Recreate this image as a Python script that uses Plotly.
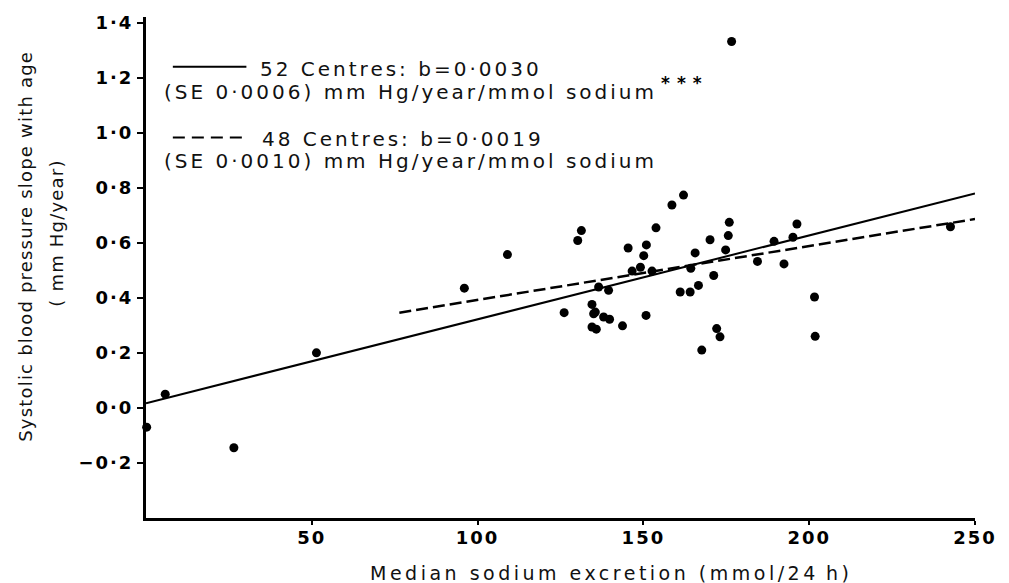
import plotly.graph_objects as go

# ---- data ----
sodium = [0.2, 5.8, 26.5, 51.4, 96.0, 109.0, 126.1, 130.2, 131.3, 134.5,
          135.0, 135.5, 138.0, 139.8, 134.5, 135.8, 136.5, 139.5, 143.7, 145.4,
          146.6, 149.1, 150.1, 150.8, 150.9, 152.6, 153.8, 158.6, 161.1, 162.1,
          164.1, 164.3, 165.6, 166.6, 167.6, 170.1, 171.2, 172.1, 173.1, 174.8,
          175.6, 175.9, 176.6, 184.4, 189.4, 192.4, 195.1, 196.3, 201.6, 201.8,
          242.6]
bp_slope = [-0.07, 0.05, -0.145, 0.20, 0.435, 0.557, 0.346, 0.608, 0.644, 0.376,
            0.342, 0.348, 0.330, 0.322, 0.294, 0.286, 0.439, 0.427, 0.298, 0.581,
            0.497, 0.511, 0.553, 0.336, 0.592, 0.497, 0.654, 0.737, 0.421, 0.773,
            0.421, 0.507, 0.563, 0.445, 0.210, 0.611, 0.481, 0.288, 0.258, 0.574,
            0.626, 0.674, 1.331, 0.532, 0.605, 0.523, 0.620, 0.668, 0.403, 0.260,
            0.658]

line52_x = [0, 250]
line52_y = [0.017, 0.779]
line48_x = [76.4, 250]
line48_y = [0.346, 0.686]

x_ticks = [50, 100, 150, 200, 250]
x_ticklabels = ["50", "100", "150", "200", "250"]
y_ticks = [-0.2, 0.0, 0.2, 0.4, 0.6, 0.8, 1.0, 1.2, 1.4]
y_ticklabels = ["\u22120\u00b72", "0\u00b70", "0\u00b72", "0\u00b74", "0\u00b76",
                "0\u00b78", "1\u00b70", "1\u00b72", "1\u00b74"]

legend_lines = [
    "52 Centres: b=0\u00b70030",
    "(SE 0\u00b70006) mm Hg/year/mmol sodium",
    "48 Centres: b=0\u00b70019",
    "(SE 0\u00b70010) mm Hg/year/mmol sodium",
]

# ---- layout geometry (pixels) ----
W, H = 1009, 583
L, R, T, B = 146, 29, 15, 65
PW, PH = W - L - R, H - T - B


def px(xp):
    return (xp - L) / PW


def py(yp):
    return (H - B - yp) / PH


FONT = "DejaVu Sans"


def spaced(s, sp):
    return '<span style="letter-spacing:%spx">%s</span>' % (sp, s)


fig = go.Figure()
fig.add_trace(go.Scatter(x=line52_x, y=line52_y, mode="lines",
                         line=dict(color="black", width=2), showlegend=False))
fig.add_trace(go.Scatter(x=line48_x, y=line48_y, mode="lines",
                         line=dict(color="black", width=2.5, dash="12px,5px"),
                         showlegend=False))
fig.add_trace(go.Scatter(x=sodium, y=bp_slope, mode="markers",
                         marker=dict(color="black", size=9), showlegend=False,
                         cliponaxis=False))

tick_font = dict(family=FONT, size=18, color="black", weight="bold")

fig.update_xaxes(range=[0, 250], showline=True, linewidth=3, linecolor="black",
                 ticks="outside", ticklen=4, tickwidth=2, tickcolor="black",
                 ticklabelstandoff=-3,
                 tickvals=x_ticks, ticktext=[spaced(t, 2) for t in x_ticklabels],
                 tickfont=tick_font, showgrid=False, zeroline=False)
fig.update_yaxes(range=[-0.40, 1.42], showline=True, linewidth=3, linecolor="black",
                 ticks="outside", ticklen=6, tickwidth=2, tickcolor="black",
                 tickvals=y_ticks, ticktext=[spaced(t, 2) for t in y_ticklabels],
                 tickfont=tick_font, showgrid=False, zeroline=False)

ann_font = dict(family=FONT, size=20, color="#111111")
LS = 3
annotations = []
# legend texts
annotations.append(dict(text=spaced(legend_lines[0], LS), x=px(259), y=py(67),
                        xanchor="left", yanchor="middle"))
annotations.append(dict(text=spaced(legend_lines[1], LS), x=px(162), y=py(90),
                        xanchor="left", yanchor="middle"))
annotations.append(dict(text=spaced(legend_lines[2], LS), x=px(261), y=py(137),
                        xanchor="left", yanchor="middle"))
annotations.append(dict(text=spaced(legend_lines[3], LS), x=px(162), y=py(160),
                        xanchor="left", yanchor="middle"))
annotations.append(dict(text=spaced("***", 7), x=px(688), y=py(81), xanchor="center",
                        yanchor="middle", font=dict(family=FONT, size=17,
                                                    color="black", weight="bold")))
# axis titles
annotations.append(dict(text=spaced("Median sodium excretion (mmol/24\u2009h)", 3.5),
                        x=px(614), y=py(573), xanchor="center", yanchor="middle",
                        font=dict(family=FONT, size=19, color="#111111")))
annotations.append(dict(text=spaced("Systolic blood pressure slope with age", 1.2),
                        x=px(24), y=py(245), xanchor="center", yanchor="middle",
                        textangle=-90,
                        font=dict(family=FONT, size=18, color="#111111")))
annotations.append(dict(text=spaced("( mm Hg/year)", 1.2),
                        x=px(56), y=py(232), xanchor="center", yanchor="middle",
                        textangle=-90,
                        font=dict(family=FONT, size=18, color="#111111")))
for a in annotations:
    a.setdefault("font", ann_font)
    a.update(xref="paper", yref="paper", showarrow=False)

shapes = [
    dict(type="line", xref="paper", yref="paper", x0=px(173), x1=px(247),
         y0=py(65), y1=py(65), line=dict(color="black", width=2)),
    dict(type="line", xref="paper", yref="paper", x0=px(173), x1=px(244),
         y0=py(136), y1=py(136), line=dict(color="black", width=2, dash="12px,7px")),
]

fig.update_layout(width=W, height=H, margin=dict(l=L, r=R, t=T, b=B),
                  plot_bgcolor="white", paper_bgcolor="white",
                  annotations=annotations, shapes=shapes,
                  font=dict(family=FONT, color="black"))

fig.write_html("out.html")
